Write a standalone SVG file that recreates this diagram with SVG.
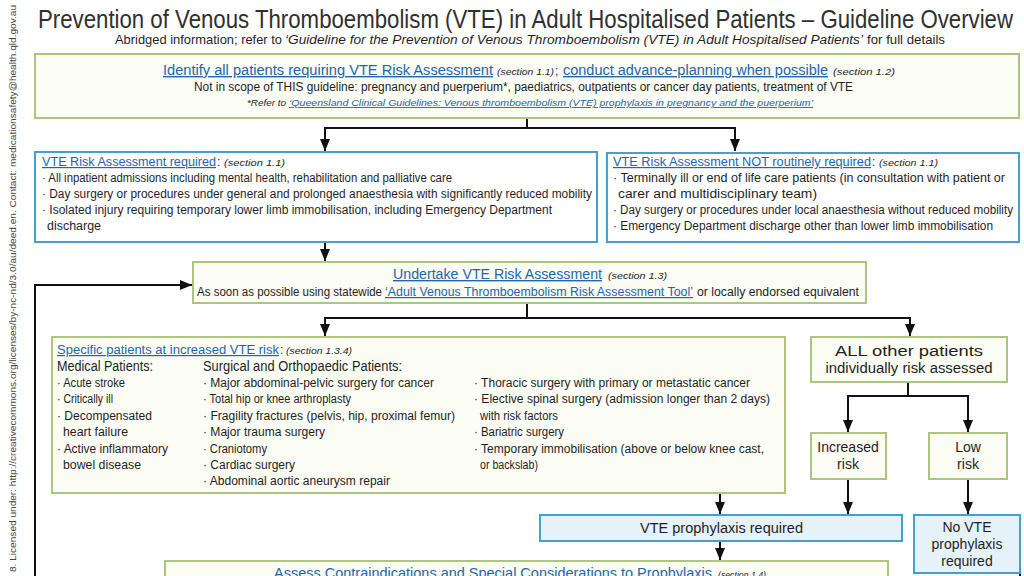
<svg xmlns="http://www.w3.org/2000/svg" width="1024" height="576" viewBox="0 0 1024 576">
<defs>
<style>
text{font-family:"Liberation Sans Narrow","Arial Narrow","Liberation Sans",Arial,sans-serif;fill:#1f1f1f}
.lk{fill:#2465ad;text-decoration:underline}
.sec{font-style:italic;font-size:9px}
.s12{font-size:12px}
.s14{font-size:14px}
.g{fill:#fbfcf3;stroke:#acc67f;stroke-width:2}
.b{fill:#ffffff;stroke:#459fd0;stroke-width:2}
.bf{fill:#e5f2f9;stroke:#459fd0;stroke-width:2}
.c{stroke:#111;stroke-width:2;fill:none}
.m{text-anchor:middle}
</style>
<marker id="ah" viewBox="0 0 12 10" refX="12" refY="5" markerWidth="12" markerHeight="10" markerUnits="userSpaceOnUse" orient="auto">
<path d="M0,0 L12,5 L0,10 z" fill="#111"/>
</marker>
</defs>
<rect width="1024" height="576" fill="#ffffff"/>

<text x="16" y="572" transform="rotate(-90 16 572)" font-size="9" textLength="567" lengthAdjust="spacingAndGlyphs" style="fill:#444">8. Licensed under: http://creativecommons.org/licenses/by-nc-nd/3.0/au/deed.en. Contact: medicationsafety@health.qld.gov.au</text>

<g id="title">
<text x="38" y="28" font-size="26" textLength="975" lengthAdjust="spacingAndGlyphs" style="fill:#303030">Prevention of Venous Thromboembolism (VTE) in Adult Hospitalised Patients – Guideline Overview</text>
<text x="115" y="44" font-size="12.5" textLength="167" lengthAdjust="spacingAndGlyphs">Abridged information; refer to</text>
<text x="285" y="44" font-size="12.5" font-style="italic" textLength="578" lengthAdjust="spacingAndGlyphs">‘Guideline for the Prevention of Venous Thromboembolism (VTE) in Adult Hospitalised Patients’</text>
<text x="867" y="44" font-size="12.5" textLength="78" lengthAdjust="spacingAndGlyphs">for full details</text>
</g>

<g id="connectors">
<path class="c" d="M527,118 V128 M324,128 H736"/>
<path class="c" d="M325,128 V151" marker-end="url(#ah)"/>
<path class="c" d="M735,128 V151" marker-end="url(#ah)"/>
<path class="c" d="M325,242 V261" marker-end="url(#ah)"/>
<path class="c" d="M35,576 V285 H192" marker-end="url(#ah)"/>
<path class="c" d="M527,303 V318 M324,318 H911"/>
<path class="c" d="M325,318 V336" marker-end="url(#ah)"/>
<path class="c" d="M910,318 V336" marker-end="url(#ah)"/>
<path class="c" d="M908,383 V396 M847,396 H969"/>
<path class="c" d="M848,396 V432" marker-end="url(#ah)"/>
<path class="c" d="M968,396 V432" marker-end="url(#ah)"/>
<path class="c" d="M848,479 V514" marker-end="url(#ah)"/>
<path class="c" d="M968,479 V514" marker-end="url(#ah)"/>
<path class="c" d="M720,494 V514" marker-end="url(#ah)"/>
<path class="c" d="M720,541 V560" marker-end="url(#ah)"/>
<path class="c" d="M1020,566 V576"/>
</g>

<g id="identify">
<rect class="g" x="35" y="54" width="984" height="64"/>
<text class="s14 lk" x="163" y="75" textLength="330" lengthAdjust="spacingAndGlyphs">Identify all patients requiring VTE Risk Assessment</text>
<text class="sec" x="497" y="75" textLength="57" lengthAdjust="spacingAndGlyphs">(section 1.1)</text>
<text class="s12" x="555" y="75">;</text>
<text class="s14 lk" x="563" y="75" textLength="265" lengthAdjust="spacingAndGlyphs">conduct advance-planning when possible</text>
<text class="sec" x="833" y="75" textLength="62" lengthAdjust="spacingAndGlyphs">(section 1.2)</text>
<text class="s12" x="194" y="91" textLength="659" lengthAdjust="spacingAndGlyphs">Not in scope of THIS guideline: pregnancy and puerperium*, paediatrics, outpatients or cancer day patients, treatment of VTE</text>
<text class="sec" x="247" y="106" textLength="39" lengthAdjust="spacingAndGlyphs">*Refer to</text>
<text class="sec lk" x="289" y="106" textLength="524" lengthAdjust="spacingAndGlyphs">‘Queensland Clinical Guidelines: Venous thromboembolism (VTE) prophylaxis in pregnancy and the puerperium’</text>
</g>

<g id="required">
<rect class="b" x="35" y="152" width="562" height="90"/>
<text class="s12 lk" x="42" y="166" textLength="174" lengthAdjust="spacingAndGlyphs">VTE Risk Assessment required</text>
<text class="s12" x="217" y="166">:</text>
<text class="sec" x="224" y="166" textLength="61" lengthAdjust="spacingAndGlyphs">(section 1.1)</text>
<text class="s12" x="42" y="182" textLength="410" lengthAdjust="spacingAndGlyphs">· All inpatient admissions including mental health, rehabilitation and palliative care</text>
<text class="s12" x="42" y="198" textLength="550" lengthAdjust="spacingAndGlyphs">· Day surgery or procedures under general and prolonged anaesthesia with significantly reduced mobility</text>
<text class="s12" x="42" y="214" textLength="510" lengthAdjust="spacingAndGlyphs">· Isolated injury requiring temporary lower limb immobilisation, including Emergency Department</text>
<text class="s12" x="47" y="230" textLength="54" lengthAdjust="spacingAndGlyphs">discharge</text>
</g>

<g id="not-required">
<rect class="b" x="607" y="153" width="412" height="89"/>
<text class="s12 lk" x="613" y="166" textLength="258" lengthAdjust="spacingAndGlyphs">VTE Risk Assessment NOT routinely required</text>
<text class="s12" x="872" y="166">:</text>
<text class="sec" x="879" y="166" textLength="59" lengthAdjust="spacingAndGlyphs">(section 1.1)</text>
<text class="s12" x="613" y="182" textLength="392" lengthAdjust="spacingAndGlyphs">· Terminally ill or end of life care patients (in consultation with patient or</text>
<text class="s12" x="618" y="198" textLength="199" lengthAdjust="spacingAndGlyphs">carer and multidisciplinary team)</text>
<text class="s12" x="613" y="214" textLength="400" lengthAdjust="spacingAndGlyphs">· Day surgery or procedures under local anaesthesia without reduced mobility</text>
<text class="s12" x="613" y="230" textLength="380" lengthAdjust="spacingAndGlyphs">· Emergency Department discharge other than lower limb immobilisation</text>
</g>

<g id="undertake">
<rect class="g" x="193" y="262" width="673" height="41"/>
<text class="s14 lk" x="393" y="279" textLength="209" lengthAdjust="spacingAndGlyphs">Undertake VTE Risk Assessment</text>
<text class="sec" x="608" y="279" textLength="59" lengthAdjust="spacingAndGlyphs">(section 1.3)</text>
<text class="s12" x="197" y="296" textLength="185" lengthAdjust="spacingAndGlyphs">As soon as possible using statewide</text>
<text class="s12 lk" x="385" y="296" textLength="308" lengthAdjust="spacingAndGlyphs">‘Adult Venous Thromboembolism Risk Assessment Tool’</text>
<text class="s12" x="697" y="296" textLength="162" lengthAdjust="spacingAndGlyphs">or locally endorsed equivalent</text>
</g>

<g id="specific">
<rect class="g" x="52" y="337" width="733" height="156"/>
<text class="s12 lk" x="57" y="354" textLength="222" lengthAdjust="spacingAndGlyphs">Specific patients at increased VTE risk</text>
<text class="s12" x="280" y="354">:</text>
<text class="sec" x="286" y="354" textLength="66" lengthAdjust="spacingAndGlyphs">(section 1.3.4)</text>
<text class="s14" x="57" y="371" textLength="96" lengthAdjust="spacingAndGlyphs">Medical Patients:</text>
<text class="s12" x="57" y="387" textLength="68" lengthAdjust="spacingAndGlyphs">· Acute stroke</text>
<text class="s12" x="57" y="403" textLength="56" lengthAdjust="spacingAndGlyphs">· Critically ill</text>
<text class="s12" x="57" y="420" textLength="95" lengthAdjust="spacingAndGlyphs">· Decompensated</text>
<text class="s12" x="63" y="436" textLength="65" lengthAdjust="spacingAndGlyphs">heart failure</text>
<text class="s12" x="57" y="453" textLength="111" lengthAdjust="spacingAndGlyphs">· Active inflammatory</text>
<text class="s12" x="63" y="469" textLength="78" lengthAdjust="spacingAndGlyphs">bowel disease</text>
<text class="s14" x="203" y="371" textLength="199" lengthAdjust="spacingAndGlyphs">Surgical and Orthopaedic Patients:</text>
<text class="s12" x="203" y="387" textLength="231" lengthAdjust="spacingAndGlyphs">· Major abdominal-pelvic surgery for cancer</text>
<text class="s12" x="203" y="403" textLength="148" lengthAdjust="spacingAndGlyphs">· Total hip or knee arthroplasty</text>
<text class="s12" x="203" y="420" textLength="252" lengthAdjust="spacingAndGlyphs">· Fragility fractures (pelvis, hip, proximal femur)</text>
<text class="s12" x="203" y="436" textLength="122" lengthAdjust="spacingAndGlyphs">· Major trauma surgery</text>
<text class="s12" x="203" y="453" textLength="64" lengthAdjust="spacingAndGlyphs">· Craniotomy</text>
<text class="s12" x="203" y="469" textLength="92" lengthAdjust="spacingAndGlyphs">· Cardiac surgery</text>
<text class="s12" x="203" y="485" textLength="187" lengthAdjust="spacingAndGlyphs">· Abdominal aortic aneurysm repair</text>
<text class="s12" x="474" y="387" textLength="276" lengthAdjust="spacingAndGlyphs">· Thoracic surgery with primary or metastatic cancer</text>
<text class="s12" x="474" y="403" textLength="296" lengthAdjust="spacingAndGlyphs">· Elective spinal surgery (admission longer than 2 days)</text>
<text class="s12" x="480" y="420" textLength="78" lengthAdjust="spacingAndGlyphs">with risk factors</text>
<text class="s12" x="474" y="436" textLength="90" lengthAdjust="spacingAndGlyphs">· Bariatric surgery</text>
<text class="s12" x="474" y="453" textLength="290" lengthAdjust="spacingAndGlyphs">· Temporary immobilisation (above or below knee cast,</text>
<text class="s12" x="480" y="469" textLength="58" lengthAdjust="spacingAndGlyphs">or backslab)</text>
</g>

<g id="all-other">
<rect class="g" x="811" y="337" width="196" height="45"/>
<text class="s14 m" x="909" y="356" textLength="148" lengthAdjust="spacingAndGlyphs">ALL other patients</text>
<text class="s14 m" x="909" y="373" textLength="167" lengthAdjust="spacingAndGlyphs">individually risk assessed</text>
</g>

<g id="increased">
<rect class="g" x="811" y="433" width="75" height="46"/>
<text class="s14 m" x="848" y="452">Increased</text>
<text class="s14 m" x="848" y="469">risk</text>
</g>

<g id="low">
<rect class="g" x="929" y="433" width="78" height="46"/>
<text class="s14 m" x="968" y="452">Low</text>
<text class="s14 m" x="968" y="469">risk</text>
</g>

<g id="prophylaxis">
<rect class="bf" x="540" y="515" width="362" height="26"/>
<text class="s14" x="640" y="533" textLength="163" lengthAdjust="spacingAndGlyphs">VTE prophylaxis required</text>
</g>

<g id="no-prophylaxis">
<rect class="bf" x="914" y="515" width="106" height="58"/>
<text class="s14 m" x="967" y="532">No VTE</text>
<text class="s14 m" x="967" y="549">prophylaxis</text>
<text class="s14 m" x="967" y="566">required</text>
</g>

<g id="contraindications">
<rect class="g" x="165" y="561" width="723" height="30"/>
<text class="s14 lk" x="274" y="578" textLength="438" lengthAdjust="spacingAndGlyphs">Assess Contraindications and Special Considerations to Prophylaxis</text>
<text class="sec" x="718" y="578" textLength="48" lengthAdjust="spacingAndGlyphs">(section 1.4)</text>
</g>
</svg>
